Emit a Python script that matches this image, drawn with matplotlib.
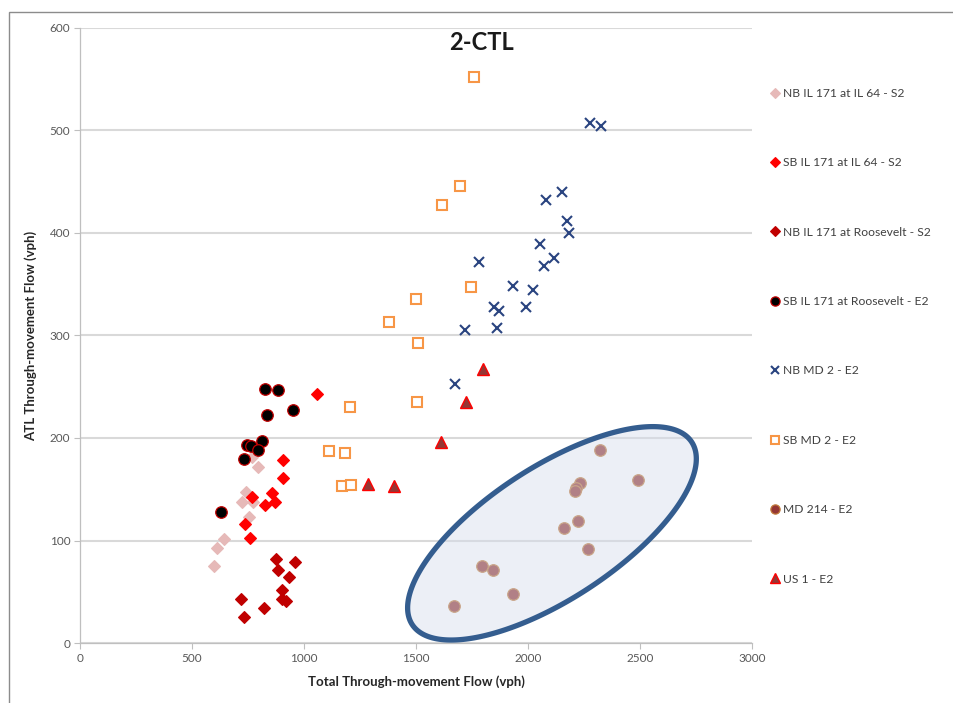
import numpy as np
import matplotlib
matplotlib.use("Agg")
import matplotlib.pyplot as plt
from matplotlib.lines import Line2D
from matplotlib.patches import Rectangle, Polygon

plt.rcParams['font.family'] = ['Lato', 'DejaVu Sans']

# ---------------- data ----------------
title = "2-CTL"
x_label = "Total Through-movement Flow (vph)"
y_label = "ATL Through-movement Flow (vph)"
x_ticks = [0, 500, 1000, 1500, 2000, 2500, 3000]
y_ticks = [0, 100, 200, 300, 400, 500, 600]

nb_il64_x = [796, 766, 740, 722, 772, 753, 641, 610, 598]
nb_il64_y = [172, 181, 147, 138, 138, 123, 101, 93, 75]

sb_il64_x = [1058, 905, 905, 768, 856, 871, 824, 737, 759]
sb_il64_y = [243, 179, 161, 142, 146, 138, 135, 116, 102]

nb_roos_x = [873, 958, 882, 933, 902, 900, 918, 720, 820, 732]
nb_roos_y = [82, 79, 71, 64, 52, 43, 41, 43, 34, 25]

sb_roos_x = [826, 882, 833, 949, 811, 744, 763, 793, 732, 628]
sb_roos_y = [248, 247, 222, 227, 197, 193, 192, 188, 180, 128]

nb_md2_x = [2276, 2326, 2154, 2080, 2176, 2182, 2052, 1780, 2117, 2071,
            1935, 2024, 1847, 1869, 1990, 1719, 1862, 1673]
nb_md2_y = [507, 504, 440, 432, 412, 400, 389, 372, 376, 368,
            348, 344, 328, 324, 328, 305, 307, 253]

sb_md2_x = [1760, 1698, 1614, 1746, 1502, 1379, 1510, 1204, 1506, 1110, 1185, 1171, 1212]
sb_md2_y = [552, 446, 427, 347, 336, 313, 293, 230, 235, 187, 185, 153, 154]

md214_x = [2323, 2492, 2233, 2214, 2210, 2223, 2161, 2268, 1793, 1844, 1934, 1670]
md214_y = [188, 159, 156, 151, 148, 119, 112, 92, 75, 71, 48, 36]

us1_x = [1798, 1721, 1612, 1287, 1402]
us1_y = [267, 235, 196, 155, 153]

labels = ["NB IL 171 at IL 64 - S2", "SB IL 171 at IL 64 - S2",
          "NB IL 171 at Roosevelt - S2", "SB IL 171 at Roosevelt - E2",
          "NB MD 2 - E2", "SB MD 2 - E2", "MD 214 - E2", "US 1 - E2"]

# highlight ellipse (data units): centre and two conjugate semi-axis vectors
ell_center = (2107, 107)
ell_major = (624, 89)
ell_minor = (-161, 54)

# ---------------- figure ----------------
W, H = 954, 703
fig = plt.figure(figsize=(W / 100, H / 100), dpi=100)
ax = fig.add_axes([80 / W, 1 - 643 / H, 672 / W, 615 / H])

styles = [
    dict(marker='D', ms=6, mfc='#E6B9B8', mec='#E6B9B8', mew=0.8),
    dict(marker='D', ms=6, mfc='#FF0000', mec='#FF0000', mew=0.8),
    dict(marker='D', ms=6, mfc='#C00000', mec='#C00000', mew=0.8),
    dict(marker='o', ms=8.3, mfc='#000000', mec='#C00000', mew=0.9),
    dict(marker='x', ms=7.8, mfc='none', mec='#2A4480', mew=1.5),
    dict(marker='s', ms=7.6, mfc='white', mec='#F79646', mew=1.5),
    dict(marker='o', ms=8.3, mfc='#943634', mec='#C07838', mew=0.9),
    dict(marker='^', ms=8.5, mfc='#953735', mec='#FF0000', mew=1.0),
]
series = [(nb_il64_x, nb_il64_y), (sb_il64_x, sb_il64_y), (nb_roos_x, nb_roos_y),
          (sb_roos_x, sb_roos_y), (nb_md2_x, nb_md2_y), (sb_md2_x, sb_md2_y),
          (md214_x, md214_y), (us1_x, us1_y)]

handles = []
for (xs, ys), st, lab in zip(series, styles, labels):
    ax.plot(xs, ys, linestyle='none', zorder=3, **st)
    h = Line2D([], [], linestyle='none', **{k: v for k, v in st.items()})
    h.set_markersize(st['ms'] * 0.8)
    handles.append(h)

# ellipse overlay
t = np.linspace(0, 2 * np.pi, 400)
ex = ell_center[0] + ell_major[0] * np.cos(t) + ell_minor[0] * np.sin(t)
ey = ell_center[1] + ell_major[1] * np.cos(t) + ell_minor[1] * np.sin(t)
ax.add_patch(Polygon(np.column_stack([ex, ey]), closed=True,
                     facecolor='#D5DCEC', alpha=0.45, edgecolor='none',
                     zorder=4, clip_on=False))
ax.add_patch(Polygon(np.column_stack([ex, ey]), closed=True,
                     facecolor='none', edgecolor='#345D8F', lw=3.8,
                     zorder=5, clip_on=False))

ax.set_xlim(0, 3000)
ax.set_ylim(0, 600)
ax.set_xticks(x_ticks)
ax.set_yticks(y_ticks)
ax.tick_params(axis='both', labelsize=8.5, colors='#595959', length=4,
               width=0.8, direction='out', pad=3)
ax.tick_params(axis='both', color='#BFBFBF')
ax.grid(axis='y', color='#D9D9D9', lw=1.5, zorder=0)
ax.set_axisbelow(True)
for s in ['top', 'right']:
    ax.spines[s].set_visible(False)
for s in ['left', 'bottom']:
    ax.spines[s].set_color('#BFBFBF')
    ax.spines[s].set_linewidth(0.9)

ax.set_xlabel(x_label, fontsize=9.5, fontweight='bold', color='#262626', labelpad=8)
ax.set_ylabel(y_label, fontsize=9.5, fontweight='bold', color='#262626', labelpad=9)
fig.text(482 / W, 1 - 42 / H, title, fontsize=17, fontweight='bold',
         color='#1A1A1A', ha='center', va='center')

leg = fig.legend(handles, labels, loc='upper left',
                 bbox_to_anchor=(771 / W, 1 - 88 / H), frameon=False,
                 fontsize=8.7, labelspacing=4.83, handlelength=0.6,
                 handletextpad=0.4, borderaxespad=0, borderpad=0)
for txt in leg.get_texts():
    txt.set_color('#404040')

# outer chart border
fig.add_artist(Rectangle((9 / W, -0.02), 1.05, 1 - 12 / H + 0.02,
                         transform=fig.transFigure, fill=False,
                         edgecolor='#8C8C8C', lw=1.0, clip_on=False))

fig.savefig("out.png", dpi=100)
